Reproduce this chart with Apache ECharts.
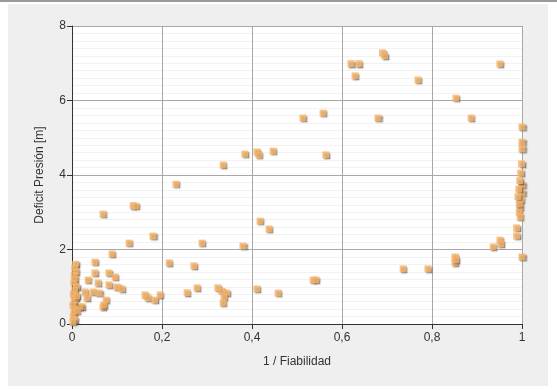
<!DOCTYPE html>
<html>
<head>
<meta charset="utf-8">
<script src="https://cdn.jsdelivr.net/npm/echarts@6/dist/echarts.min.js"></script>
<style>html,body{margin:0;padding:0;background:#fff;}#c{width:557px;height:389px;}</style>
</head>
<body>
<div id="c"></div>
<script>
var xTitle = '1 / Fiabilidad';
var yTitle = 'Deficit Presión [m]';
var xValues = [
  0.69,0.695,0.62,0.638,0.629,0.769,0.951,0.853,0.887,0.513,0.558,0.68,0.564,
  0.384,0.411,0.416,0.447,0.336,0.231,0.136,0.142,0.069,0.18,0.127,0.289,0.38,0.418,0.438,0.089,
  0.271,0.216,0.536,0.542,0.256,0.278,0.324,0.333,0.344,0.338,0.336,0.411,0.458,
  0.162,0.169,0.184,0.196,
  0.051,0.051,0.082,0.096,0.036,0.058,0.082,0.1,0.111,0.029,0.047,0.06,0.033,0.076,0.069,0.022,0.018,0.071,
  0.008,0.006,0.009,0.005,0.007,0.004,0.01,0.006,0.003,0.008,0.005,0.002,0.007,0.004,0.003,0.006,0.002,0.012,0.01,
  1.0,1.0,1.002,1.002,1.002,1.001,1.0,1.0,0.998,0.996,0.994,0.996,0.988,0.988,1.0,1.001,0.999,0.997,0.995,0.993,0.991,0.994,
  0.951,0.953,0.936,1.0,0.851,0.851,0.853,0.736,0.791
];
var yValues = [
  7.28,7.2,6.99,6.99,6.66,6.55,6.98,6.06,5.53,5.53,5.66,5.53,4.54,
  4.56,4.62,4.53,4.64,4.27,3.75,3.18,3.16,2.95,2.36,2.17,2.17,2.09,2.76,2.55,1.88,
  1.56,1.64,1.18,1.18,0.84,0.97,0.97,0.88,0.83,0.73,0.56,0.94,0.83,
  0.78,0.7,0.64,0.78,
  1.66,1.37,1.37,1.26,1.18,1.1,1.05,0.99,0.94,0.86,0.86,0.83,0.7,0.64,0.46,0.46,0.46,0.51,
  1.6,1.5,1.4,1.3,1.2,1.1,1.0,0.9,0.8,0.7,0.6,0.5,0.4,0.3,0.2,0.12,0.05,0.35,0.75,
  5.29,4.88,4.59,4.4,4.21,3.95,3.73,3.52,3.33,3.14,3.0,2.87,2.58,2.36,4.7,4.5,4.3,4.05,3.85,3.62,3.42,3.22,
  2.25,2.15,2.07,1.8,1.8,1.64,1.72,1.48,1.48
];
var xTicks = [0, 0.2, 0.4, 0.6, 0.8, 1];
var yTicks = [0, 2, 4, 6, 8];

var pts = xValues.map(function (x, i) { return [x, yValues[i]]; });
var chart = echarts.init(document.getElementById('c'), null, {renderer: 'canvas'});
var font = 'Liberation Sans, Arial, sans-serif';
chart.setOption({
  animation: false,
  backgroundColor: '#ffffff',
  graphic: [
    {type: 'rect', shape: {x: 8, y: 4, width: 540, height: 382}, style: {fill: '#efefef'}, z: -10},
    {type: 'rect', shape: {x: 0, y: 0, width: 557, height: 2}, style: {fill: '#9a9a9a'}, z: -10}
  ],
  grid: {left: 72, right: 35, top: 26, bottom: 65, show: true, backgroundColor: '#ffffff', borderWidth: 0},
  xAxis: {
    type: 'value', min: xTicks[0], max: xTicks[xTicks.length - 1], interval: 0.2,
    name: xTitle, nameLocation: 'middle', nameGap: 32,
    nameTextStyle: {fontFamily: font, fontSize: 12, color: '#333'},
    axisLine: {show: true, lineStyle: {color: '#333', width: 1}},
    axisTick: {show: true, length: 5, lineStyle: {color: '#333'}},
    axisLabel: {fontFamily: font, fontSize: 12, color: '#333', margin: 8,
      formatter: function (v) { return String(+v.toFixed(1)).replace('.', ','); }},
    splitLine: {show: true, lineStyle: {color: '#a8a8a8', width: 1}}
  },
  yAxis: {
    type: 'value', min: yTicks[0], max: yTicks[yTicks.length - 1], interval: 2,
    name: yTitle, nameLocation: 'middle', nameGap: 26,
    nameTextStyle: {fontFamily: font, fontSize: 12, color: '#333'},
    axisLine: {show: true, lineStyle: {color: '#333', width: 1}},
    axisTick: {show: true, length: 5, lineStyle: {color: '#333'}},
    axisLabel: {fontFamily: font, fontSize: 12, color: '#333', margin: 6},
    splitLine: {show: true, lineStyle: {color: '#a8a8a8', width: 1}},
    minorTick: {show: false, splitNumber: 10},
    minorSplitLine: {show: true, lineStyle: {color: '#f2f2f2', width: 1}}
  },
  series: [{
    type: 'scatter',
    data: pts,
    symbol: 'rect',
    symbolSize: 7,
    itemStyle: {
      color: '#f6b46c',
      shadowColor: 'rgba(70,60,50,0.8)',
      shadowOffsetX: 1.5,
      shadowOffsetY: 1.5,
      shadowBlur: 1.5
    }
  }]
});
</script>
</body>
</html>
